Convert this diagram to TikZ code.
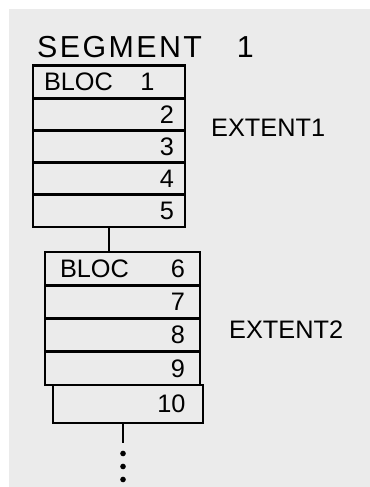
\documentclass[tikz,border=0pt]{standalone}
\usepackage{fontspec}
\setmainfont{Liberation Sans}
\usepackage{xcolor}
\usepackage{tikz}
\usetikzlibrary{calc}
\definecolor{papier}{HTML}{EBEBEB}
\tikzstyle{bloc} = [rectangle, draw=black, line width=1.7pt, font=\Large, align=right]
\tikzstyle{blocun} = [bloc, minimum width=3.04cm, minimum height=0.644cm, text width=2.6cm]
\tikzstyle{blocdeux} = [bloc, minimum width=3.1cm, minimum height=0.665cm, text width=2.5cm]
\tikzstyle{titre} = [font=\Large, anchor=west]

\begin{document}
\begin{tikzpicture}
    %% feuille
    \useasboundingbox (0,0) rectangle (7.4,-9.74);
    \fill[papier] (0.18,-0.18) rectangle (7.4,-9.74);

    %% segment 1
    \node (segment) [titre, anchor=base west, font=\LARGE\addfontfeature{LetterSpace=8}] at (0.62,-1.16) {SEGMENT\hspace{0.7cm}1};

    %% extent 1
    \node (b1) [blocun] at (2.18,-1.642) {\makebox[\linewidth][l]{BLOC\hspace{0.55cm}1}};
    \node (b2) [blocun] at (2.18,-2.286) {2};
    \node (b3) [blocun] at (2.18,-2.930) {3};
    \node (b4) [blocun] at (2.18,-3.574) {4};
    \node (b5) [blocun] at (2.18,-4.218) {5};
    \node (extent1) [titre] at (4.10,-2.56) {EXTENT1};

    %% extent 2
    \node (b6) [blocdeux] at (2.45,-5.3725) {\makebox[\linewidth][l]{BLOC\hfill 6}};
    \node (b7) [blocdeux] at (2.45,-6.0375) {7};
    \node (b8) [blocdeux] at (2.45,-6.7025) {8};
    \node (b9) [blocdeux] at (2.45,-7.3675) {9};
    \node (extent2) [titre] at (4.46,-6.60) {EXTENT2};

    %% bloc 10
    \node (b10) [bloc, minimum width=3.0cm, minimum height=0.76cm, text width=2.3cm] at (2.56,-8.08) {10};

    %% liaisons
    \draw[-, line width=1.7pt] (b5.south) -- (b5.south |- b6.north);
    \coordinate (suite) at ($(b10.south)+(-0.1,-0.38)$);
    \draw[-, line width=1.7pt] (b10.south -| suite) -- (suite);
    \fill (suite) ++(0,-0.20) circle (1.6pt) ++(0,-0.26) circle (1.6pt) ++(0,-0.26) circle (1.6pt);
\end{tikzpicture}
\end{document}
